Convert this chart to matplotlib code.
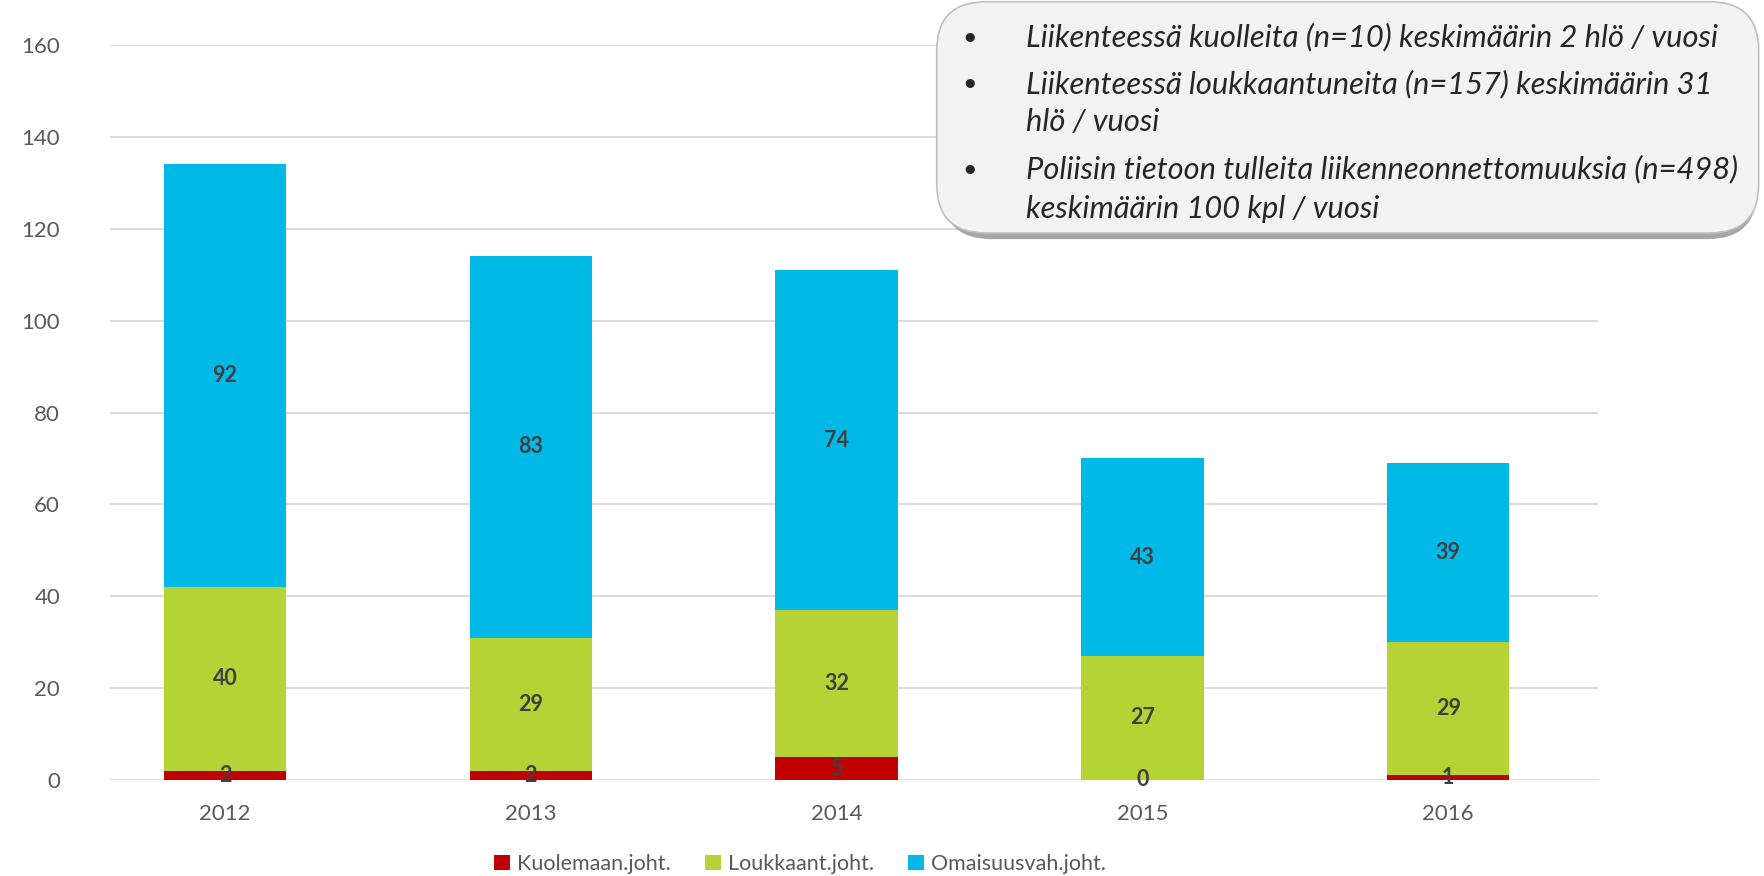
import matplotlib.pyplot as plt
from matplotlib.patches import FancyBboxPatch

years = ["2012", "2013", "2014", "2015", "2016"]
kuolemaan = [2, 2, 5, 0, 1]
loukkaant = [40, 29, 32, 27, 29]
omaisuus = [92, 83, 74, 43, 39]
series_names = ["Kuolemaan.joht.", "Loukkaant.joht.", "Omaisuusvah.joht."]
note_lines = [
    ("•", "Liikenteessä kuolleita (n=10) keskimäärin 2 hlö / vuosi"),
    ("•", "Liikenteessä loukkaantuneita (n=157) keskimäärin 31"),
    ("", "hlö / vuosi"),
    ("•", "Poliisin tietoon tulleita liikenneonnettomuuksia (n=498)"),
    ("", "keskimäärin 100 kpl / vuosi"),
]

plt.rcParams['font.family'] = ['Lato', 'DejaVu Sans']

fig = plt.figure(figsize=(17.64, 8.76), dpi=100)
ax = fig.add_axes([0.0624, 0.1096, 0.8435, 0.839])

colors = ["#C00000", "#B5D334", "#00B9E7"]
x = range(len(years))
bottom = [0] * len(years)
for vals, col, name in zip([kuolemaan, loukkaant, omaisuus], colors, series_names):
    ax.bar(x, vals, width=0.4, bottom=bottom, color=col, label=name, zorder=3)
    for i, v in enumerate(vals):
        ax.text(i, bottom[i] + v / 2, str(v), ha="center", va="center",
                fontsize=15.5, fontweight="bold", color="#404040", zorder=4)
    bottom = [b + v for b, v in zip(bottom, vals)]

ax.set_ylim(0, 160)
ax.set_xlim(-0.376, 4.49)
ax.set_yticks(range(0, 161, 20))
ax.set_xticks(list(x))
ax.set_xticklabels(years)
ax.grid(axis="y", color="#D9D9D9", linewidth=1.3, zorder=0)
for s in ax.spines.values():
    s.set_visible(False)
ax.tick_params(axis="y", length=0, pad=36, labelsize=16, labelcolor="#595959")
ax.tick_params(axis="x", length=0, pad=17, labelsize=16, labelcolor="#595959")

fig.legend(loc="center", ncol=3, bbox_to_anchor=(0.4535, 0.0137), frameon=False,
           fontsize=15.5, labelcolor="#595959", handlelength=0.75, handleheight=0.75,
           handletextpad=0.3, columnspacing=1.6)

# note box with shadow
shadow = FancyBboxPatch((0.534, 0.727), 0.462, 0.266, boxstyle="round,pad=0,rounding_size=0.028",
                        transform=fig.transFigure, facecolor="#A6A6A6", edgecolor="none",
                        mutation_aspect=2.0, zorder=5)
box = FancyBboxPatch((0.531, 0.734), 0.466, 0.264, boxstyle="round,pad=0,rounding_size=0.028",
                     transform=fig.transFigure, facecolor="#F2F2F2", edgecolor="#BFBFBF",
                     linewidth=1.2, mutation_aspect=2.0, zorder=6)
fig.patches.extend([shadow, box])

line_y = [37, 84, 122, 169, 209]
for (bullet, txt), yy in zip(note_lines, line_y):
    yf = 1 - yy / 876
    if bullet:
        fig.text(962 / 1764, yf, bullet, ha="left", va="center", fontsize=18,
                 color="#262626", zorder=7)
    fig.text(1026 / 1764, yf, txt, ha="left", va="center", fontsize=22.2,
             style="italic", color="#262626", zorder=7)

fig.savefig("out.png", dpi=100)
